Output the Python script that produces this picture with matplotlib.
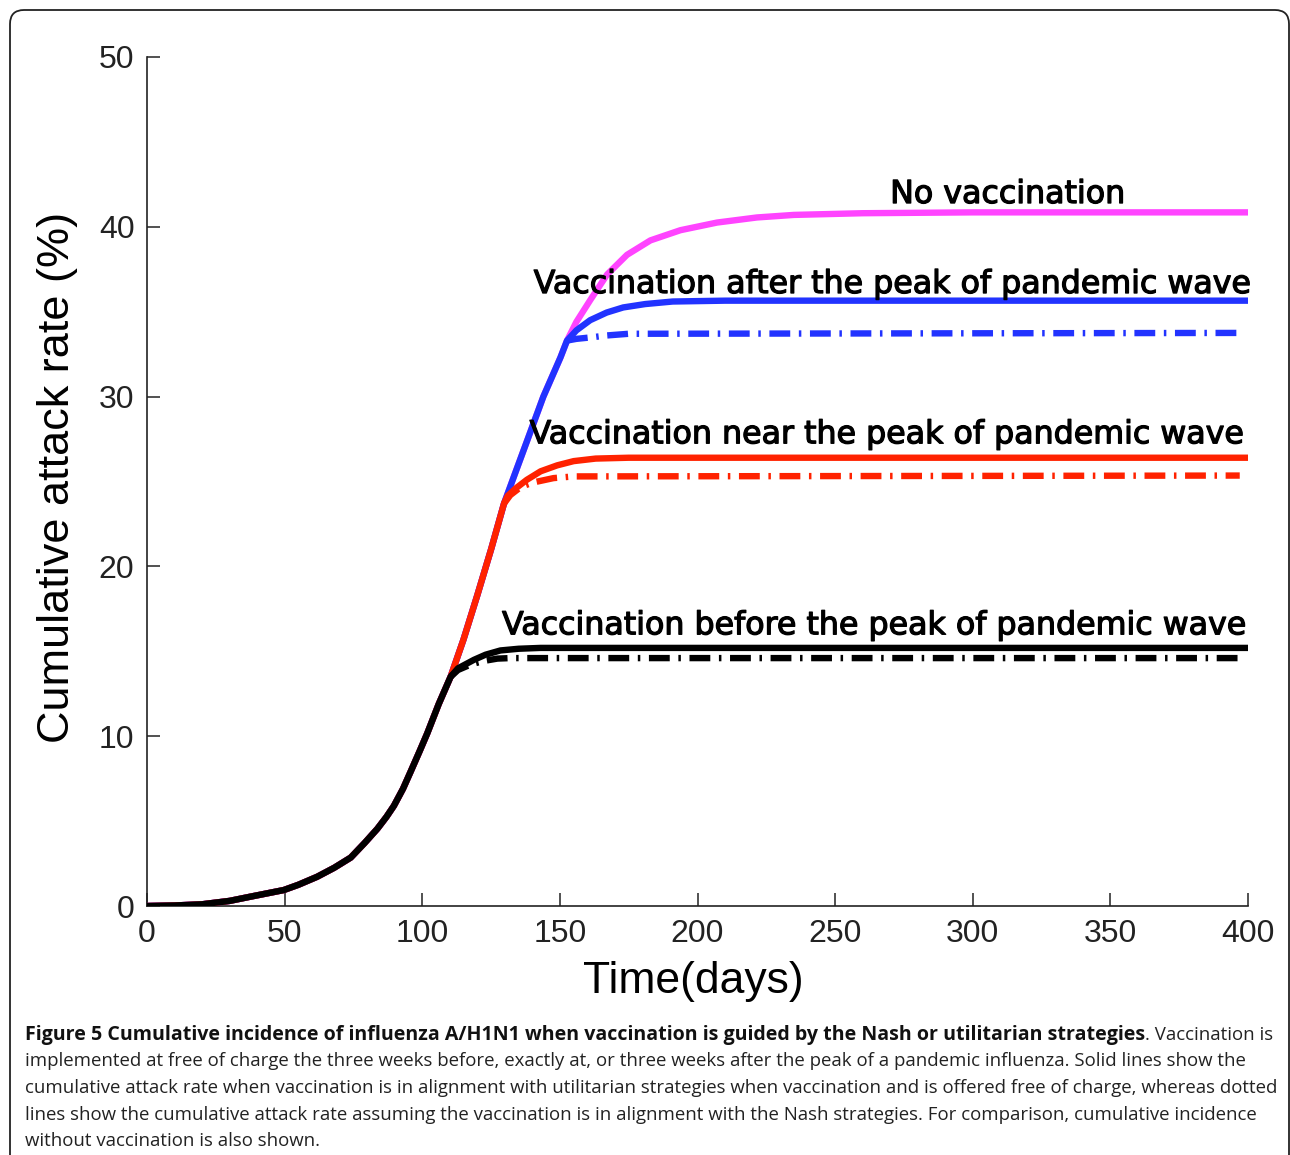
import matplotlib
matplotlib.use("Agg")
import matplotlib.pyplot as plt
import matplotlib.patheffects as pe
from matplotlib.patches import FancyBboxPatch
from matplotlib.transforms import IdentityTransform
import numpy as np

# ---------------- data ----------------
base_days = [0, 10, 20, 30, 37.6, 49.7, 55, 61.8, 68, 74, 79, 83.7, 87, 89.7,
             93, 95.75, 99, 101.8, 106, 110.3, 115, 120, 125, 129.7, 134, 138.1,
             144, 150.2, 152.6, 156, 161.1, 167.2, 174.4, 182.9, 193.8, 207.1,
             221.6, 235, 260, 300, 350, 400]
base_vals = [0, 0.03, 0.1, 0.3, 0.55, 0.94, 1.25, 1.72, 2.25, 2.85, 3.7, 4.55,
             5.25, 5.9, 6.9, 7.9, 9.1, 10.16, 11.9, 13.5, 15.7, 18.3, 21.0, 23.7,
             25.6, 27.4, 30.0, 32.3, 33.3, 34.4, 35.7, 37.2, 38.35, 39.2, 39.8,
             40.25, 40.55, 40.7, 40.8, 40.85, 40.85, 40.85]

# day at which each vaccination scenario leaves the no-vaccination curve
before_start = 110.3
near_start = 129.7
after_start = 152.6

before_u_days = [113, 118.8, 123, 128.4, 135, 143, 400]
before_u_vals = [14.0, 14.5, 14.8, 15.05, 15.15, 15.2, 15.2]
before_n_days = [113, 118, 123, 127.3, 132, 397]
before_n_vals = [13.9, 14.25, 14.45, 14.57, 14.6, 14.6]

near_u_days = [131, 134, 138, 143, 149, 155, 163, 175, 400]
near_u_vals = [24.15, 24.6, 25.1, 25.6, 25.95, 26.2, 26.35, 26.4, 26.4]
near_n_days = [132, 136, 140.5, 147.7, 155, 397]
near_n_vals = [24.2, 24.7, 24.95, 25.2, 25.3, 25.35]

after_u_days = [156, 161, 167, 173, 181, 191, 210, 400]
after_u_vals = [33.9, 34.5, 34.95, 35.25, 35.45, 35.6, 35.65, 35.65]
after_n_days = [156, 162, 167, 175, 397]
after_n_vals = [33.4, 33.5, 33.6, 33.7, 33.75]

labels = ["No vaccination",
          "Vaccination after the peak of pandemic wave",
          "Vaccination near the peak of pandemic wave",
          "Vaccination before the peak of pandemic wave"]
label_pos = [(270, 41.4), (140.5, 36.1), (139, 27.25), (129, 16.0)]

x_ticks = [0, 50, 100, 150, 200, 250, 300, 350, 400]
y_ticks = [0, 10, 20, 30, 40, 50]

caption_bold = ("Figure 5 Cumulative incidence of influenza A/H1N1 when vaccination "
                "is guided by the Nash or utilitarian strategies")
caption_lines = [
    ". Vaccination is",
    "implemented at free of charge the three weeks before, exactly at, or three weeks after the peak of a pandemic influenza. Solid lines show the",
    "cumulative attack rate when vaccination is in alignment with utilitarian strategies when vaccination and is offered free of charge, whereas dotted",
    "lines show the cumulative attack rate assuming the vaccination is in alignment with the Nash strategies. For comparison, cumulative incidence",
    "without vaccination is also shown.",
]

# ---------------- helpers ----------------
bd = np.array(base_days, dtype=float)
bv = np.array(base_vals, dtype=float)


def branch(start, days, vals):
    mask = bd <= start
    d0 = list(bd[mask])
    v0 = list(bv[mask])
    if d0[-1] < start:
        d0.append(start)
        v0.append(float(np.interp(start, bd, bv)))
    return np.array(d0 + list(days)), np.array(v0 + list(vals))


def tail(start, days, vals):
    return (np.array([start] + list(days)),
            np.array([float(np.interp(start, bd, bv))] + list(vals)))


# ---------------- figure ----------------
plt.rcParams['lines.scale_dashes'] = False
W, H = 1290, 1155
fig = plt.figure(figsize=(W / 100, H / 100), dpi=100)
ax = fig.add_axes([147 / W, 1 - 906 / H, (1248 - 147) / W, (906 - 57) / H])

MAG = "#FF44FF"
BLUE = "#2233FF"
RED = "#FF2200"
BLK = "#000000"
LW = 4.6
DASH = (0, (15.0, 6.2, 1.8, 6.2))

ax.plot(bd, bv, color=MAG, lw=LW, zorder=2, solid_capstyle='butt', solid_joinstyle='round')

d, v = branch(after_start, after_u_days, after_u_vals)
ax.plot(d, v, color=BLUE, lw=LW, zorder=3, solid_capstyle='butt', solid_joinstyle='round')
d, v = tail(after_start, after_n_days, after_n_vals)
ax.plot(d, v, color=BLUE, lw=LW, ls=DASH, zorder=3)

d, v = branch(near_start, near_u_days, near_u_vals)
ax.plot(d, v, color=RED, lw=LW, zorder=4, solid_capstyle='butt', solid_joinstyle='round')
d, v = tail(near_start, near_n_days, near_n_vals)
ax.plot(d, v, color=RED, lw=LW, ls=DASH, zorder=4)

d, v = branch(before_start, before_u_days, before_u_vals)
ax.plot(d, v, color=BLK, lw=LW, zorder=5, solid_capstyle='butt', solid_joinstyle='round')
d, v = tail(before_start, before_n_days, before_n_vals)
ax.plot(d, v, color=BLK, lw=LW, ls=DASH, zorder=5)

for txt, (x, y) in zip(labels, label_pos):
    ax.text(x, y, txt, fontsize=22.8, family="DejaVu Sans", ha='left',
            va='baseline', color='black', zorder=6,
            path_effects=[pe.withStroke(linewidth=0.9, foreground='black')])

ax.set_xlim(0, 400)
ax.set_ylim(0, 50)
ax.set_xticks(x_ticks)
ax.set_yticks(y_ticks)
ax.set_xticklabels([str(t) for t in x_ticks])
ax.set_yticklabels([str(t) for t in y_ticks])
for s in ['top', 'right']:
    ax.spines[s].set_visible(False)
for s in ['left', 'bottom']:
    ax.spines[s].set_linewidth(1.2)
    ax.spines[s].set_color('#222222')
ax.tick_params(direction='in', length=9.5, width=1.1, color='#222222',
               labelsize=23, pad=9, labelcolor='#222222')
for lab in ax.get_xticklabels() + ax.get_yticklabels():
    lab.set_family("Liberation Sans")
ax.patch.set_alpha(0)

ax.set_xlabel("Time(days)", fontsize=32, family="Liberation Sans", va='center')
ax.xaxis.set_label_coords((693 - 147) / 1101, -(982 - 906) / 849)
ax.set_ylabel("Cumulative attack rate (%)", fontsize=32.5, family="Liberation Sans",
              va='center')
ax.yaxis.set_label_coords(-(147 - 58) / 1101, (906 - 477) / 849)

# rounded frame
frame = FancyBboxPatch((10, -40), 1279, 1145 + 40, boxstyle="round,pad=0,rounding_size=14",
                       transform=IdentityTransform(), fill=False, ec='#222222', lw=1.3)
fig.patches.append(frame)

# caption
cap_x = 25
baselines = [1040, 1066.5, 1093, 1119.5, 1146]
cap_fs = 13.45
cap_family = "Open Sans"
tb = fig.text(cap_x / W, 1 - baselines[0] / H, caption_bold, fontsize=14.15,
              family=cap_family, weight='bold', ha='left', va='baseline', color='#111111')
fig.canvas.draw()
r = fig.canvas.get_renderer()
ext = tb.get_window_extent(renderer=r)
fig.text(ext.x1 / W, 1 - baselines[0] / H, caption_lines[0], fontsize=cap_fs,
         family=cap_family, ha='left', va='baseline', color='#222222')
for line, b in zip(caption_lines[1:], baselines[1:]):
    fig.text(cap_x / W, 1 - b / H, line, fontsize=cap_fs, family=cap_family,
             ha='left', va='baseline', color='#222222')

fig.savefig("out.png", dpi=100)
